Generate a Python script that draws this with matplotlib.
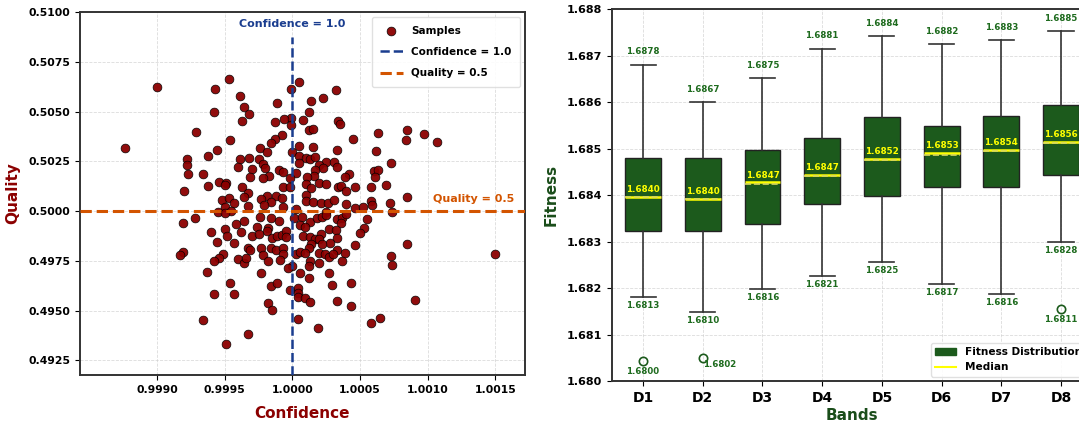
import matplotlib.pyplot as plt
from matplotlib.patches import Patch
from matplotlib.lines import Line2D

# samples (confidence, quality)
confidence = [
    0.99900, 0.99876, 0.99953, 0.99943, 0.99961, 0.99964, 0.99968, 0.99942, 0.99963, 0.99929,
    0.99954, 0.99944, 0.99938, 0.99922, 0.99922, 0.99923, 0.99934, 0.99961, 0.99968, 0.99960,
    0.99970, 0.99969, 0.99920, 0.99938, 0.99946, 0.99951, 0.99950, 0.99963, 0.99967, 0.99964,
    0.99948, 0.99953, 0.99957, 0.99967, 0.99950, 0.99945, 0.99955,
    1.00005, 0.99999, 1.00032, 1.00023, 1.00014, 0.99989, 1.00012, 1.00008, 0.99999, 0.99994,
    0.99987, 0.99999, 1.00034, 1.00035, 1.00012, 1.00015, 1.00063, 1.00045, 0.99992, 0.99987,
    0.99984, 0.99976, 0.99981, 1.00000, 1.00005, 1.00015, 1.00033, 1.00062, 1.00005, 1.00010,
    1.00013, 1.00017, 0.99975, 0.99978, 0.99980, 1.00005, 1.00025, 1.00031, 1.00033, 1.00073,
    1.00020, 1.00023, 1.00017, 0.99990, 0.99993, 0.99983, 0.99978, 1.00003, 1.00016, 1.00011,
    0.99998, 1.00042, 1.00039, 1.00060, 1.00063, 1.00061, 1.00020, 1.00010, 1.00014, 1.00025,
    1.00034, 1.00036, 1.00046, 1.00040, 1.00058, 1.00069, 0.99993, 0.99998, 0.99988, 0.99981,
    0.99977, 0.99984, 0.99992, 0.99993, 1.00010, 1.00010, 1.00015, 1.00021, 1.00026, 1.00031,
    1.00040, 1.00046, 1.00052, 1.00058, 1.00059, 1.00072, 0.99979, 1.00003, 1.00025,
    0.99919, 0.99928, 0.99940, 0.99950, 0.99952, 0.99944, 0.99957, 0.99962, 0.99958, 0.99964,
    0.99950, 0.99919, 0.99917, 0.99949, 0.99946, 0.99942, 0.99960, 0.99964, 0.99966, 0.99967,
    0.99937, 0.99954, 0.99942, 0.99957, 0.99934, 0.99967, 0.99951, 0.99970, 0.99969,
    0.99984, 0.99976, 0.99990, 1.00001, 1.00007, 1.00013, 1.00018, 1.00022, 1.00025, 1.00033,
    1.00037, 1.00040, 1.00036, 1.00055, 1.00006, 1.00009, 1.00053, 1.00050, 0.99974, 0.99982,
    0.99981, 0.99985, 0.99989, 0.99992, 0.99995, 0.99995, 0.99975, 1.00008, 1.00013, 1.00017,
    1.00021, 1.00020, 1.00027, 1.00032, 1.00033, 1.00028, 1.00022, 1.00014, 1.00012, 1.00033,
    1.00039, 1.00046, 0.99977, 0.99984, 0.99988, 0.99993, 0.99993, 0.99978, 0.99982, 0.99991,
    1.00003, 1.00006, 1.00009, 1.00020, 1.00024, 1.00027, 1.00030, 1.00013, 1.00012, 1.00020,
    1.00037, 1.00000, 0.99997, 0.99977, 1.00006, 1.00012, 1.00027, 0.99984, 0.99989, 0.99998,
    1.00004, 1.00004, 1.00004, 1.00009, 1.00013, 1.00029, 1.00043, 1.00033, 1.00043, 0.99982,
    0.99985, 1.00004, 1.00019, 1.00058, 1.00065, 1.00073, 1.00074,
    1.00085, 1.00084, 1.00097, 1.00107, 1.00085, 1.00074, 1.00085, 1.00091, 1.00150,
]
quality = [
    0.50624, 0.50319, 0.50663, 0.50612, 0.50579, 0.50522, 0.50487, 0.50500, 0.50450, 0.50398,
    0.50357, 0.50307, 0.50277, 0.50260, 0.50230, 0.50186, 0.50188, 0.50263, 0.50265, 0.50221,
    0.50210, 0.50169, 0.50101, 0.50126, 0.50148, 0.50143, 0.50129, 0.50119, 0.50092, 0.50069,
    0.50055, 0.50064, 0.50042, 0.50025, 0.50018, 0.49997, 0.49998,
    0.50646, 0.50614, 0.50606, 0.50567, 0.50555, 0.50545, 0.50495, 0.50458, 0.50466, 0.50461,
    0.50445, 0.50433, 0.50450, 0.50436, 0.50408, 0.50414, 0.50391, 0.50361, 0.50381, 0.50362,
    0.50344, 0.50315, 0.50298, 0.50297, 0.50327, 0.50324, 0.50307, 0.50302, 0.50277, 0.50265,
    0.50260, 0.50270, 0.50260, 0.50235, 0.50215, 0.50240, 0.50245, 0.50247, 0.50223, 0.50243,
    0.50231, 0.50215, 0.50206, 0.50206, 0.50198, 0.50176, 0.50164, 0.50193, 0.50176, 0.50169,
    0.50167, 0.50186, 0.50169, 0.50203, 0.50206, 0.50173, 0.50139, 0.50136, 0.50114, 0.50136,
    0.50122, 0.50126, 0.50122, 0.50102, 0.50119, 0.50132, 0.50122, 0.50122, 0.50075, 0.50075,
    0.50058, 0.50047, 0.50064, 0.50022, 0.50080, 0.50051, 0.50047, 0.50042, 0.50042, 0.50055,
    0.50035, 0.50013, 0.50018, 0.50051, 0.50030, 0.50039, 0.50030, 0.50008, 0.49997,
    0.49939, 0.49967, 0.49895, 0.49911, 0.49873, 0.49845, 0.49840, 0.49895, 0.49934, 0.49951,
    0.49989, 0.49796, 0.49780, 0.49783, 0.49766, 0.49747, 0.49758, 0.49737, 0.49763, 0.49816,
    0.49696, 0.49640, 0.49582, 0.49581, 0.49454, 0.49383, 0.49332, 0.49873, 0.49803,
    0.49964, 0.49969, 0.49949, 0.49964, 0.49972, 0.49944, 0.49967, 0.49972, 0.49980, 0.49961,
    0.49967, 0.49984, 0.49939, 0.49961, 0.49931, 0.49918, 0.49915, 0.49890, 0.49918, 0.49915,
    0.49898, 0.49865, 0.49873, 0.49878, 0.49901, 0.49868, 0.49885, 0.49873, 0.49868, 0.49857,
    0.49885, 0.49857, 0.49911, 0.49906, 0.49865, 0.49840, 0.49836, 0.49836, 0.49812, 0.49806,
    0.49791, 0.49829, 0.49812, 0.49812, 0.49803, 0.49816, 0.49783, 0.49780, 0.49747, 0.49753,
    0.49783, 0.49794, 0.49791, 0.49791, 0.49786, 0.49770, 0.49786, 0.49750, 0.49725, 0.49737,
    0.49747, 0.49725, 0.49714, 0.49688, 0.49688, 0.49664, 0.49689, 0.49622, 0.49640, 0.49605,
    0.49615, 0.49589, 0.49569, 0.49561, 0.49544, 0.49630, 0.49638, 0.49549, 0.49523, 0.49536,
    0.49503, 0.49457, 0.49413, 0.49437, 0.49460, 0.49775, 0.49729,
    0.50408, 0.50355, 0.50387, 0.50345, 0.50072, 0.49993, 0.49835, 0.49555, 0.49785,
]

# box statistics
bands = ['D1', 'D2', 'D3', 'D4', 'D5', 'D6', 'D7', 'D8']
whisker_low = [1.68181, 1.68149, 1.68198, 1.68226, 1.68256, 1.68208, 1.68188, 1.68300]
q1 = [1.68323, 1.68323, 1.68337, 1.68380, 1.68398, 1.68417, 1.68417, 1.68442]
medians = [1.68396, 1.68392, 1.68427, 1.68443, 1.68477, 1.68490, 1.68497, 1.68514]
means = [1.68395, 1.68391, 1.68423, 1.68441, 1.68476, 1.68486, 1.68495, 1.68511]
q3 = [1.68479, 1.68479, 1.68497, 1.68523, 1.68567, 1.68549, 1.68570, 1.68593]
whisker_high = [1.68680, 1.68599, 1.68651, 1.68715, 1.68742, 1.68725, 1.68733, 1.68753]
outliers = [[1.68042], [1.68049], [], [], [], [], [], [1.68154]]

top_labels = ['1.6878', '1.6867', '1.6875', '1.6881', '1.6884', '1.6882', '1.6883', '1.6885']
low_labels = ['1.6813', '1.6810', '1.6816', '1.6821', '1.6825', '1.6817', '1.6816', '1.6828']
median_labels = ['1.6840', '1.6840', '1.6847', '1.6847', '1.6852', '1.6853', '1.6854', '1.6856']
outlier_labels = ['1.6800', '1.6802', None, None, None, None, None, '1.6811']

plt.rcParams['font.family'] = 'DejaVu Sans'
plt.rcParams['font.weight'] = 'bold'
plt.rcParams['axes.labelweight'] = 'bold'

fig = plt.figure(figsize=(10.79, 4.25), dpi=100)
ax1 = fig.add_axes([0.0741, 0.1176, 0.4125, 0.8542])
ax2 = fig.add_axes([0.5672, 0.1035, 0.4449, 0.8753])

dark_red = '#8B0000'
navy = '#1a3d8f'
orange = '#d35400'
green = '#1c5a1c'
label_green = '#1e6b1e'

# ---- left: scatter ----
ax1.scatter(confidence, quality, s=40, c=dark_red, edgecolors='black',
            linewidths=0.5, alpha=0.95, label='Samples', zorder=3)
ax1.axvline(1.0, ymax=0.93, color=navy, ls='--', lw=1.8,
            label='Confidence = 1.0', zorder=4)
ax1.axhline(0.5, color=orange, ls='--', lw=2.2, label='Quality = 0.5', zorder=4)
ax1.text(1.0, 0.5094, 'Confidence = 1.0', color=navy, fontsize=8,
         fontweight='bold', ha='center', va='center')
ax1.text(1.00164, 0.50035, 'Quality = 0.5', color=orange, fontsize=8,
         fontweight='bold', ha='right', va='bottom')

ax1.set_xlim(0.99843, 1.00172)
ax1.set_ylim(0.49176, 0.5100)
ax1.set_xticks([0.9990, 0.9995, 1.0000, 1.0005, 1.0010, 1.0015])
ax1.set_yticks([0.4925, 0.4950, 0.4975, 0.5000, 0.5025, 0.5050, 0.5075, 0.5100])
ax1.xaxis.set_major_formatter(plt.FormatStrFormatter('%.4f'))
ax1.yaxis.set_major_formatter(plt.FormatStrFormatter('%.4f'))
ax1.tick_params(labelsize=7.8)
ax1.set_xlabel('Confidence', fontsize=11, color=dark_red, labelpad=8)
ax1.set_ylabel('Quality', fontsize=11, color=dark_red, labelpad=6)
ax1.grid(True, ls='--', lw=0.6, color='#cccccc', alpha=0.7)
ax1.set_axisbelow(True)
ax1.legend(loc='upper right', fontsize=7.5, borderpad=0.8, labelspacing=1.1,
           handlelength=2.2, framealpha=0.9, edgecolor='#dddddd')

# ---- right: box plot ----
stats = []
for i in range(len(bands)):
    stats.append(dict(label=bands[i], whislo=whisker_low[i], q1=q1[i], med=medians[i],
                      mean=means[i], q3=q3[i], whishi=whisker_high[i], fliers=outliers[i]))

positions = list(range(1, len(bands) + 1))
ax2.bxp(stats, positions=positions, widths=0.6, capwidths=0.42, patch_artist=True,
        showmeans=True, meanline=True,
        boxprops=dict(facecolor=green, edgecolor='#222222', linewidth=1),
        medianprops=dict(color='#ffff00', linewidth=1.8),
        meanprops=dict(color='#d8d860', linestyle='--', linewidth=1.2),
        whiskerprops=dict(color='#333333', linewidth=1.2),
        capprops=dict(color='#333333', linewidth=1.2),
        flierprops=dict(marker='o', markerfacecolor='none', markeredgecolor=green,
                        markersize=6, markeredgewidth=1.2))

for i, pos in enumerate(positions):
    ax2.annotate(top_labels[i], (pos, whisker_high[i]), xytext=(0, 6),
                 textcoords='offset points', ha='center', va='bottom',
                 fontsize=6.2, color=label_green, fontweight='bold')
    ax2.annotate(low_labels[i], (pos, whisker_low[i]), xytext=(0, -3),
                 textcoords='offset points', ha='center', va='top',
                 fontsize=6.2, color=label_green, fontweight='bold')
    ax2.annotate(median_labels[i], (pos, medians[i]), xytext=(0, 2),
                 textcoords='offset points', ha='center', va='bottom',
                 fontsize=6.3, color='#ffff00', fontweight='bold')
    if outlier_labels[i] is not None:
        if i == 1:
            ax2.annotate(outlier_labels[i], (pos, outliers[i][0]), xytext=(0, -1),
                         textcoords='offset points', ha='left', va='top',
                         fontsize=6.2, color=label_green, fontweight='bold')
        else:
            ax2.annotate(outlier_labels[i], (pos, outliers[i][0]), xytext=(0, -4),
                         textcoords='offset points', ha='center', va='top',
                         fontsize=6.2, color=label_green, fontweight='bold')

ax2.set_xlim(0.48, 8.52)
ax2.set_ylim(1.680, 1.688)
ax2.set_xticks(positions)
ax2.set_xticklabels(bands, fontsize=10)
ax2.tick_params(axis='y', labelsize=8)
ax2.yaxis.set_major_formatter(plt.FormatStrFormatter('%.3f'))
ax2.set_xlabel('Bands', fontsize=11, color='#1a4d1a', labelpad=2)
ax2.set_ylabel('Fitness', fontsize=11, color='#1a4d1a', labelpad=6)
ax2.grid(True, ls='--', lw=0.6, color='#cccccc', alpha=0.7)
ax2.set_axisbelow(True)

handles = [Patch(facecolor=green, edgecolor=green, label='Fitness Distribution'),
           Line2D([0], [0], color='#ffff00', lw=1.5, label='Median')]
ax2.legend(handles=handles, loc='lower left', bbox_to_anchor=(0.664, 0.012),
           borderaxespad=0, fontsize=7.6, framealpha=0.9, edgecolor='#dddddd')

for ax in (ax1, ax2):
    for s in ax.spines.values():
        s.set_color('#333333')
        s.set_linewidth(1.4)

fig.savefig('out.png', dpi=100)
